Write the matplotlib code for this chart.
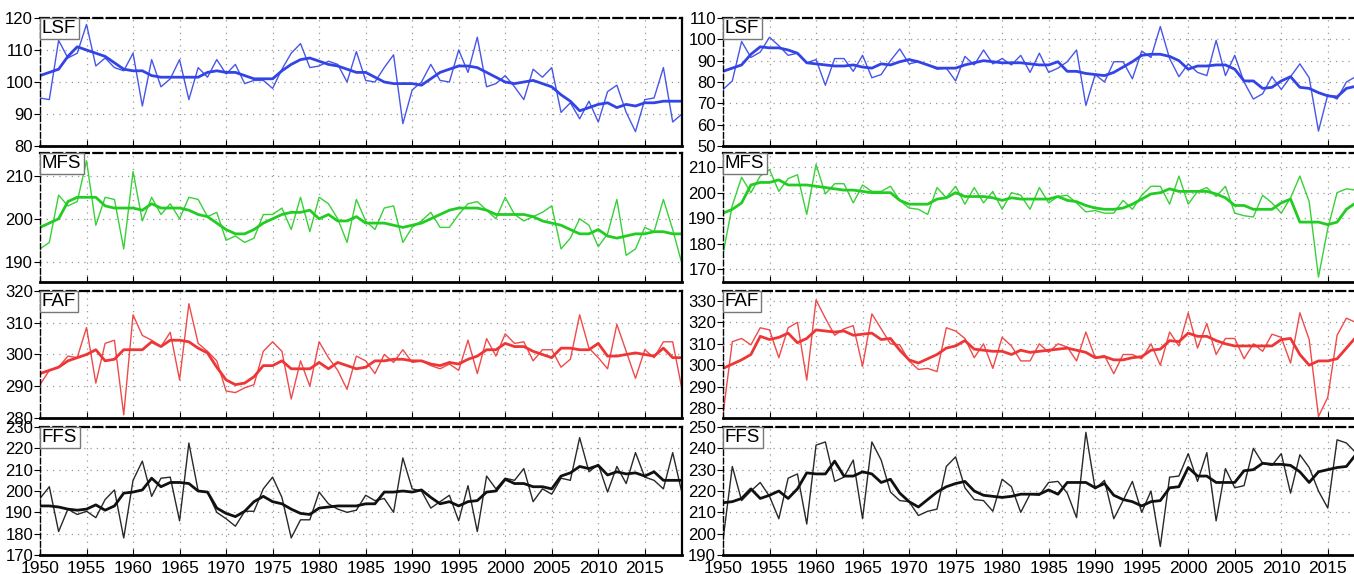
import numpy as np
import matplotlib.pyplot as plt

# annual values 1950-2019
years = np.arange(1950, 2020)

# left column
lsf_l = [95, 94.5, 113, 107.5, 109, 118, 105, 107.5, 104.5, 103.5,
         109, 92.5, 107, 98.5, 101, 107, 94.5, 104.5, 101.5, 107,
         102.5, 105.5, 99.5, 100.5, 100.5, 98, 104, 109, 112, 104.5,
         105, 106.5, 105.5, 100, 109.5, 100.5, 100, 104.5, 108.5, 87,
         97.5, 100, 105.5, 100.5, 100, 110, 103, 114, 98.5, 99.5,
         102, 98.5, 94.5, 104, 101.5, 104.5, 90.5, 93.5, 88.5, 94,
         87.5, 97, 99, 90.5, 84.5, 94.5, 95, 104.5, 87.5, 90]
lsf_l_sm = [102, 103, 104, 108, 111, 110, 109, 108, 106, 104,
            103.5, 103.5, 102, 101.5, 101.5, 101.5, 101.5, 101.5, 103, 103.5,
            103, 103, 102, 101, 101, 101, 103.5, 105.5, 107, 107.5,
            106.5, 105.5, 105, 104, 103, 103, 101.5, 100, 99.5, 99.5,
            99.5, 99, 101, 103, 104, 105, 105, 104.5, 103, 101.5,
            100, 99.5, 100, 100.5, 99.5, 98.5, 96, 94, 91, 92,
            93, 93.5, 92, 93, 92.5, 93.5, 93.5, 94, 94, 94]
mfs_l = [193, 194.5, 205.5, 203, 204, 213.5, 198.5, 205, 204.5, 193,
         211, 199.5, 205, 201, 203.5, 200, 205, 204.5, 200.5, 201.5,
         195, 196, 194.5, 195.5, 201, 201, 202.5, 197.5, 205, 197,
         205, 203.5, 200, 194.5, 204.5, 199.5, 197.5, 202.5, 203, 194.5,
         198, 199.5, 201.5, 198, 198, 201, 203.5, 204, 202, 200,
         205, 201, 199.5, 200.5, 201.5, 203, 193, 195.5, 200, 198.5,
         193.5, 196.5, 204.5, 191.5, 193, 198, 197, 204.5, 197.5, 189.5]
mfs_l_sm = [198, 199, 200, 204, 205, 205, 205, 203, 202.5, 202.5,
            202.5, 202, 203.5, 202.5, 202.5, 202.5, 202, 201, 200.5, 199,
            197.5, 196.5, 196.5, 197.5, 199, 200, 201, 201.5, 201.5, 202,
            200, 201, 199.5, 199.5, 200.5, 199, 199, 199, 198.5, 198,
            198.5, 199, 200, 201, 202, 202.5, 202.5, 202.5, 202, 201,
            201, 201, 201, 200.5, 199.5, 199, 198.5, 197.5, 196.5, 196.5,
            197.5, 196, 195.5, 196, 196.5, 196.5, 197, 197, 196.5, 196.5]
faf_l = [290.5, 295, 296, 299.5, 299, 308.5, 291, 303.5, 304.5, 281,
         312.5, 306, 304.5, 302.5, 307, 292, 316, 303.5, 301, 298,
         288.5, 288, 289.5, 290.5, 301, 304, 301, 286, 298, 290,
         304, 299, 295, 289, 299.5, 298, 294, 300, 297.5, 301.5,
         297.5, 298, 296.5, 295.5, 297, 295, 304.5, 294, 305, 299.5,
         306.5, 303.5, 304, 298, 301.5, 301.5, 296, 298.5, 312.5, 302,
         299, 295.5, 309.5, 301, 292.5, 301.5, 299, 304, 304, 289]
faf_l_sm = [294, 295, 296, 298, 299, 300, 301.5, 298, 298.5, 301.5,
            301.5, 301.5, 304, 302.5, 304.5, 304.5, 304, 302, 300.5, 296,
            292, 290.5, 291, 293, 296.5, 296.5, 298, 295.5, 295.5, 295.5,
            297.5, 295.5, 297.5, 296.5, 295.5, 296, 298, 298, 298.5, 298.5,
            298, 298, 297, 296.5, 297.5, 297, 298.5, 299.5, 301.5, 301.5,
            303.5, 302.5, 302.5, 301, 300, 299, 302, 302, 301.5, 301.5,
            303.5, 299.5, 299.5, 300, 300.5, 300, 299.5, 302, 299, 299]
ffs_l = [196.5, 202, 181, 191.5, 189, 190.5, 187.5, 196, 200.5, 178,
         205, 214, 197.5, 206, 206.5, 186, 222.5, 200, 199.5, 190,
         187, 183.5, 190.5, 190.5, 201, 206.5, 197, 178, 186.5, 186.5,
         199.5, 194, 191.5, 190, 191, 198, 195.5, 196.5, 190, 215.5,
         201, 200, 192, 195, 198, 186, 202.5, 181, 207, 201,
         206, 205, 210.5, 195, 201, 198.5, 206, 205, 225, 209,
         212.5, 199.5, 211.5, 203.5, 218, 206.5, 205, 201, 218, 199]
ffs_l_sm = [193, 193, 192.5, 191.5, 191, 191.5, 193.5, 191, 193, 199,
            199.5, 200.5, 206, 202, 204, 204, 203.5, 200, 199.5, 192,
            189.5, 188, 190.5, 195, 197.5, 195, 194, 191.5, 189.5, 189,
            192, 192.5, 193, 193, 193, 194, 194, 199.5, 199.5, 200,
            199.5, 200.5, 197, 194, 195, 193, 195, 195.5, 199.5, 200,
            205.5, 203.5, 203.5, 202, 202, 201, 207, 208.5, 211.5, 210.5,
            212, 207.5, 209, 208, 208.5, 207, 209, 205, 205, 205]

# right column
lsf_r = [76.5, 80.5, 99, 91.5, 94, 101, 97, 92.5, 93.5, 89,
         90.5, 78.5, 91, 91, 85, 92.5, 82, 83.5, 90, 95.5,
         88.5, 89.5, 88, 86, 86.5, 80.5, 92, 88, 95, 88.5,
         91, 88, 92.5, 84.5, 93.5, 84.5, 86.5, 89.5, 95, 69,
         83.5, 80, 89.5, 89.5, 81.5, 94.5, 91.5, 106, 91, 82.5,
         88.5, 84.5, 83, 99.5, 83, 92.5, 80, 72, 74.5, 82.5,
         76.5, 82.5, 88.5, 82, 57, 74, 72, 80, 82.5, 83]
lsf_r_sm = [85, 86.5, 88, 93, 96.5, 96, 96, 95, 93.5, 89,
            88.5, 88, 87.5, 87.5, 88, 87, 86.5, 88.5, 88, 89.5,
            90.5, 89.5, 88, 86.5, 86.5, 86.5, 88, 89, 90, 89.5,
            89, 89, 89, 88.5, 88, 88, 89.5, 85, 85, 84,
            83.5, 83, 84.5, 87, 89.5, 92.5, 93, 93, 92, 90,
            86, 87.5, 87.5, 88, 88, 86, 80.5, 80.5, 77, 77.5,
            80.5, 82.5, 77.5, 77, 75, 73.5, 73, 77, 78, 78]
mfs_r = [176, 195, 206, 200, 206.5, 209, 200.5, 205.5, 207, 191.5,
         211, 199.5, 203.5, 203.5, 196, 203, 200.5, 200.5, 202.5, 197,
         194, 193.5, 191.5, 202, 198, 202.5, 195.5, 202, 196, 200.5,
         193.5, 200, 199, 193.5, 202, 196, 198.5, 199, 196, 192.5,
         193, 192, 192, 197, 193.5, 199, 202.5, 202.5, 195.5, 206.5,
         195.5, 200.5, 202, 198.5, 202.5, 192, 191, 190.5, 199, 196,
         192, 198, 206.5, 196.5, 167, 186, 200, 201.5, 201, 200]
mfs_r_sm = [192, 193.5, 196, 203, 204, 204, 205, 203, 203, 203,
            202.5, 202, 201.5, 201, 201, 200.5, 200, 200, 200, 197,
            195.5, 195.5, 195.5, 197.5, 198, 200, 198.5, 198.5, 198.5, 198,
            197, 198, 197.5, 197.5, 197.5, 197.5, 198.5, 197, 196.5, 195,
            194, 193.5, 193.5, 194, 195.5, 197.5, 199.5, 200, 201.5, 200.5,
            200.5, 200.5, 200.5, 199.5, 198, 195, 195, 193.5, 193.5, 193.5,
            196, 197.5, 188.5, 188.5, 188.5, 187.5, 188.5, 193.5, 196, 198]
faf_r = [277, 311, 312.5, 309.5, 317.5, 316.5, 303.5, 317.5, 320, 293,
         330.5, 322, 314, 317, 318.5, 299.5, 324, 317, 310, 309.5,
         302, 298, 298.5, 297, 317.5, 316, 312.5, 303.5, 310, 298.5,
         313, 309, 302, 302, 310, 306, 310, 308.5, 302, 315.5,
         303.5, 304.5, 296, 305, 305, 303, 310, 300, 315.5, 309,
         324.5, 308, 319.5, 305, 312.5, 312.5, 303, 310, 306.5, 314.5,
         313, 301, 324.5, 312, 276, 285, 314, 322, 320, 315]
faf_r_sm = [298.5, 300.5, 302.5, 305, 313.5, 312, 313, 315, 310.5, 312.5,
            316.5, 316, 315.5, 316, 314, 314.5, 315, 312, 312.5, 307,
            302.5, 301, 303, 305, 308, 309, 311.5, 307.5, 307, 306.5,
            306.5, 305, 307, 306, 306.5, 307, 307.5, 308, 307, 306,
            303.5, 304, 302.5, 302.5, 303.5, 304, 307, 307.5, 311.5, 311,
            315, 313.5, 313.5, 311.5, 310, 309, 309, 309, 309, 309,
            312, 312.5, 305, 300, 302, 302, 303, 308, 313, 315]
ffs_r = [197, 231.5, 215.5, 220, 224, 217.5, 207, 226, 228, 204.5,
         241.5, 243, 224.5, 226.5, 234.5, 207, 243, 234.5, 219.5, 215.5,
         215, 208.5, 210.5, 211.5, 231.5, 236, 221.5, 216, 215.5, 210.5,
         225.5, 222, 210, 218.5, 218, 224, 224.5, 219, 207.5, 247.5,
         221, 225, 207, 215.5, 224.5, 210, 220, 194, 226.5, 227,
         237.5, 224.5, 238, 206, 230.5, 221.5, 222.5, 240, 233, 232,
         237.5, 219, 237, 231, 220, 212, 244, 242.5, 238, 232]
ffs_r_sm = [214.5, 215, 216.5, 221, 216.5, 218, 220, 216.5, 221, 228.5,
            228, 228, 234, 227, 227, 229, 228, 224, 225.5, 219,
            215, 212.5, 216, 219.5, 222, 223.5, 224.5, 220, 218, 217.5,
            217, 217.5, 218.5, 218.5, 218.5, 220.5, 218.5, 224, 224, 224,
            221.5, 223.5, 218, 216, 215, 213, 215, 215.5, 221.5, 222,
            231, 227, 227, 224, 224, 224, 229.5, 230, 233, 232.5,
            232.5, 232, 229, 224, 229, 230, 231, 231.5, 237, 238]

labels = ['LSF', 'MFS', 'FAF', 'FFS']
colors = ['#3344e6', '#22cc22', '#ee3636', '#111111']

left_raw = [lsf_l, mfs_l, faf_l, ffs_l]
left_sm = [lsf_l_sm, mfs_l_sm, faf_l_sm, ffs_l_sm]
right_raw = [lsf_r, mfs_r, faf_r, ffs_r]
right_sm = [lsf_r_sm, mfs_r_sm, faf_r_sm, ffs_r_sm]

left_ylim = [(80, 120), (185.3, 215.3), (280, 320), (170, 230)]
left_ticks = [range(80, 121, 10), range(190, 211, 10), range(280, 321, 10), range(170, 231, 10)]
right_ylim = [(50, 110), (165.1, 215.5), (275.3, 334.7), (190, 250)]
right_ticks = [range(50, 111, 10), range(170, 211, 10), range(280, 331, 10), range(190, 251, 10)]

plt.rcParams['font.family'] = ['Liberation Sans', 'DejaVu Sans']

fig = plt.figure(figsize=(13.54, 5.74), dpi=100)
W, H = 1354, 574
rows_px = [(18, 146), (153, 282), (291, 418), (427, 555)]
cols_px = [40, 723]
panel_w = 642


def draw_panel(ax, raw, sm, color, label, ylim, yticks, bottom):
    ax.plot(years, raw, color=color, lw=1.0, alpha=0.9)
    ax.plot(years, sm, color=color, lw=2.0)
    ax.set_xlim(1950, 2019)
    ax.set_ylim(*ylim)
    ax.set_yticks(list(yticks))
    ax.set_xticks(range(1950, 2016, 5))
    ax.grid(True, linestyle=(0, (1, 4)), color='#999999', lw=0.9)
    ax.tick_params(axis='y', direction='out', length=4, labelsize=12, pad=1)
    ax.tick_params(axis='x', direction='in', length=4, labelsize=12.5, pad=4)
    if not bottom:
        ax.tick_params(axis='x', labelbottom=False)
    ax.spines['top'].set_linestyle((0, (4, 2)))
    ax.spines['top'].set_linewidth(1.6)
    ax.spines['left'].set_linestyle((0, (4, 2)))
    ax.spines['left'].set_linewidth(1.0)
    ax.spines['bottom'].set_linewidth(2.0)
    ax.spines['right'].set_linewidth(1.6)
    ax.text(0.003, 0.985, label, transform=ax.transAxes, ha='left', va='top',
            fontsize=13.5, zorder=5,
            bbox=dict(boxstyle='square,pad=0.12', fc='white', ec='#777777', lw=1.0))


for r in range(4):
    top, bot = rows_px[r]
    for c, (raws, sms, ylims, ticks) in enumerate([(left_raw, left_sm, left_ylim, left_ticks),
                                                   (right_raw, right_sm, right_ylim, right_ticks)]):
        ax = fig.add_axes([cols_px[c] / W, 1 - bot / H, panel_w / W, (bot - top) / H])
        draw_panel(ax, raws[r], sms[r], colors[r], labels[r], ylims[r], ticks[r], r == 3)

plt.savefig('out.png', dpi=100)
